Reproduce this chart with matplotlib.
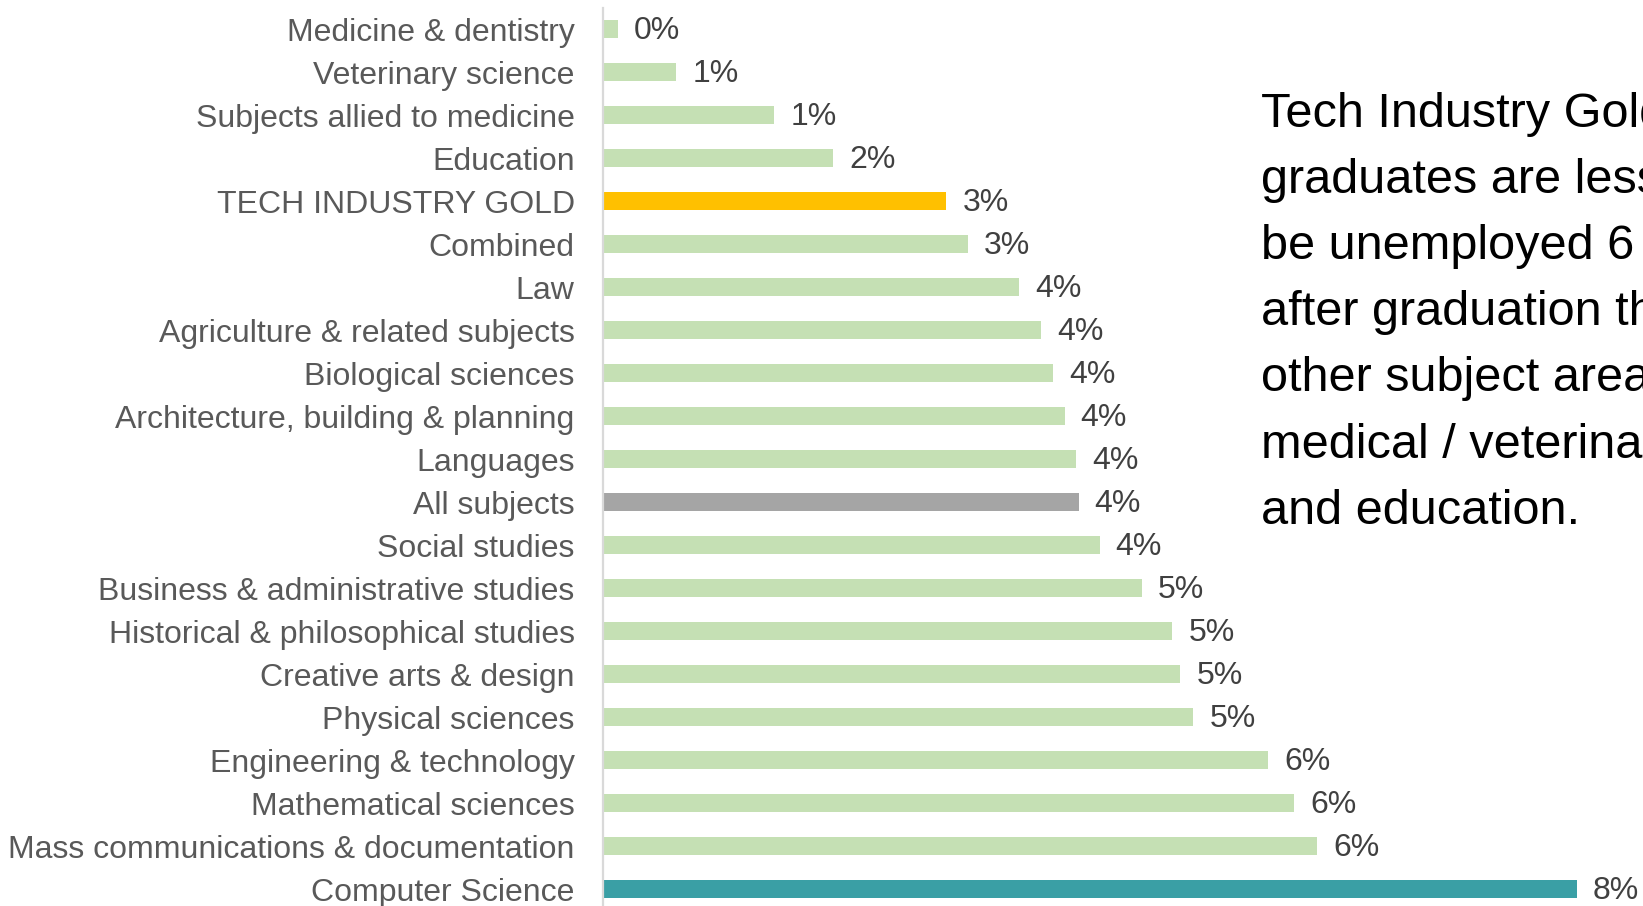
import matplotlib
matplotlib.use("Agg")
import matplotlib.pyplot as plt

categories = [
    "Medicine & dentistry", "Veterinary science", "Subjects allied to medicine",
    "Education", "TECH INDUSTRY GOLD", "Combined", "Law",
    "Agriculture & related subjects", "Biological sciences",
    "Architecture, building & planning", "Languages", "All subjects",
    "Social studies", "Business & administrative studies",
    "Historical & philosophical studies", "Creative arts & design",
    "Physical sciences", "Engineering & technology", "Mathematical sciences",
    "Mass communications & documentation", "Computer Science",
]
values = [0.13, 0.63, 1.47, 1.97, 2.94, 3.12, 3.56, 3.75, 3.85, 3.95, 4.05,
          4.07, 4.25, 4.61, 4.87, 4.94, 5.05, 5.69, 5.91, 6.11, 8.33]
highlight_colors = {
    "TECH INDUSTRY GOLD": "#FFC000",
    "All subjects": "#A5A5A5",
    "Computer Science": "#3A9FA5",
}
default_color = "#C5E0B4"
note_lines = [
    "Tech Industry Gold",
    "graduates are less likely to",
    "be unemployed 6 months",
    "after graduation than most",
    "other subject areas, except",
    "medical / veterinary subjects",
    "and education.",
]

plt.rcParams["font.family"] = ["Liberation Sans", "DejaVu Sans"]

W, H = 1643, 906
fig = plt.figure(figsize=(W / 100, H / 100), dpi=100)
fig.patch.set_facecolor("white")

left_px = 602.5
top_px = 7.8
ax = fig.add_axes([left_px / W, 0, 1 - left_px / W, 1 - top_px / H])

y = list(range(len(categories)))
colors = [highlight_colors.get(c, default_color) for c in categories]
ax.barh(y, values, height=0.41, color=colors, zorder=2)

px_per_unit = 117.0
ax.set_xlim(0, (W - left_px) / px_per_unit)
row_px = 43.0
row0_px = 29.3
ax.set_ylim((H - row0_px) / row_px, -0.5)

ax.set_yticks(y)
ax.set_yticklabels(categories, fontsize=23, color="#595959")
ax.tick_params(axis="y", length=0, pad=20)
ax.set_xticks([])

for s in ["top", "right", "bottom"]:
    ax.spines[s].set_visible(False)
ax.spines["left"].set_color("#D9D9D9")
ax.spines["left"].set_linewidth(1.6)

for yi, v in zip(y, values):
    ax.annotate(f"{v:.0f}%", xy=(v, yi), xytext=(11.5, -1.5),
                textcoords="offset points", va="center", ha="left",
                fontsize=23, color="#404040", annotation_clip=False)

x0 = 1261 / W
baseline0 = 126.7
line_gap = 66.2
for i, line in enumerate(note_lines):
    fig.text(x0, 1 - (baseline0 + i * line_gap) / H, line,
             fontsize=35, color="black", va="baseline", ha="left")

fig.savefig("out.png", dpi=100)
